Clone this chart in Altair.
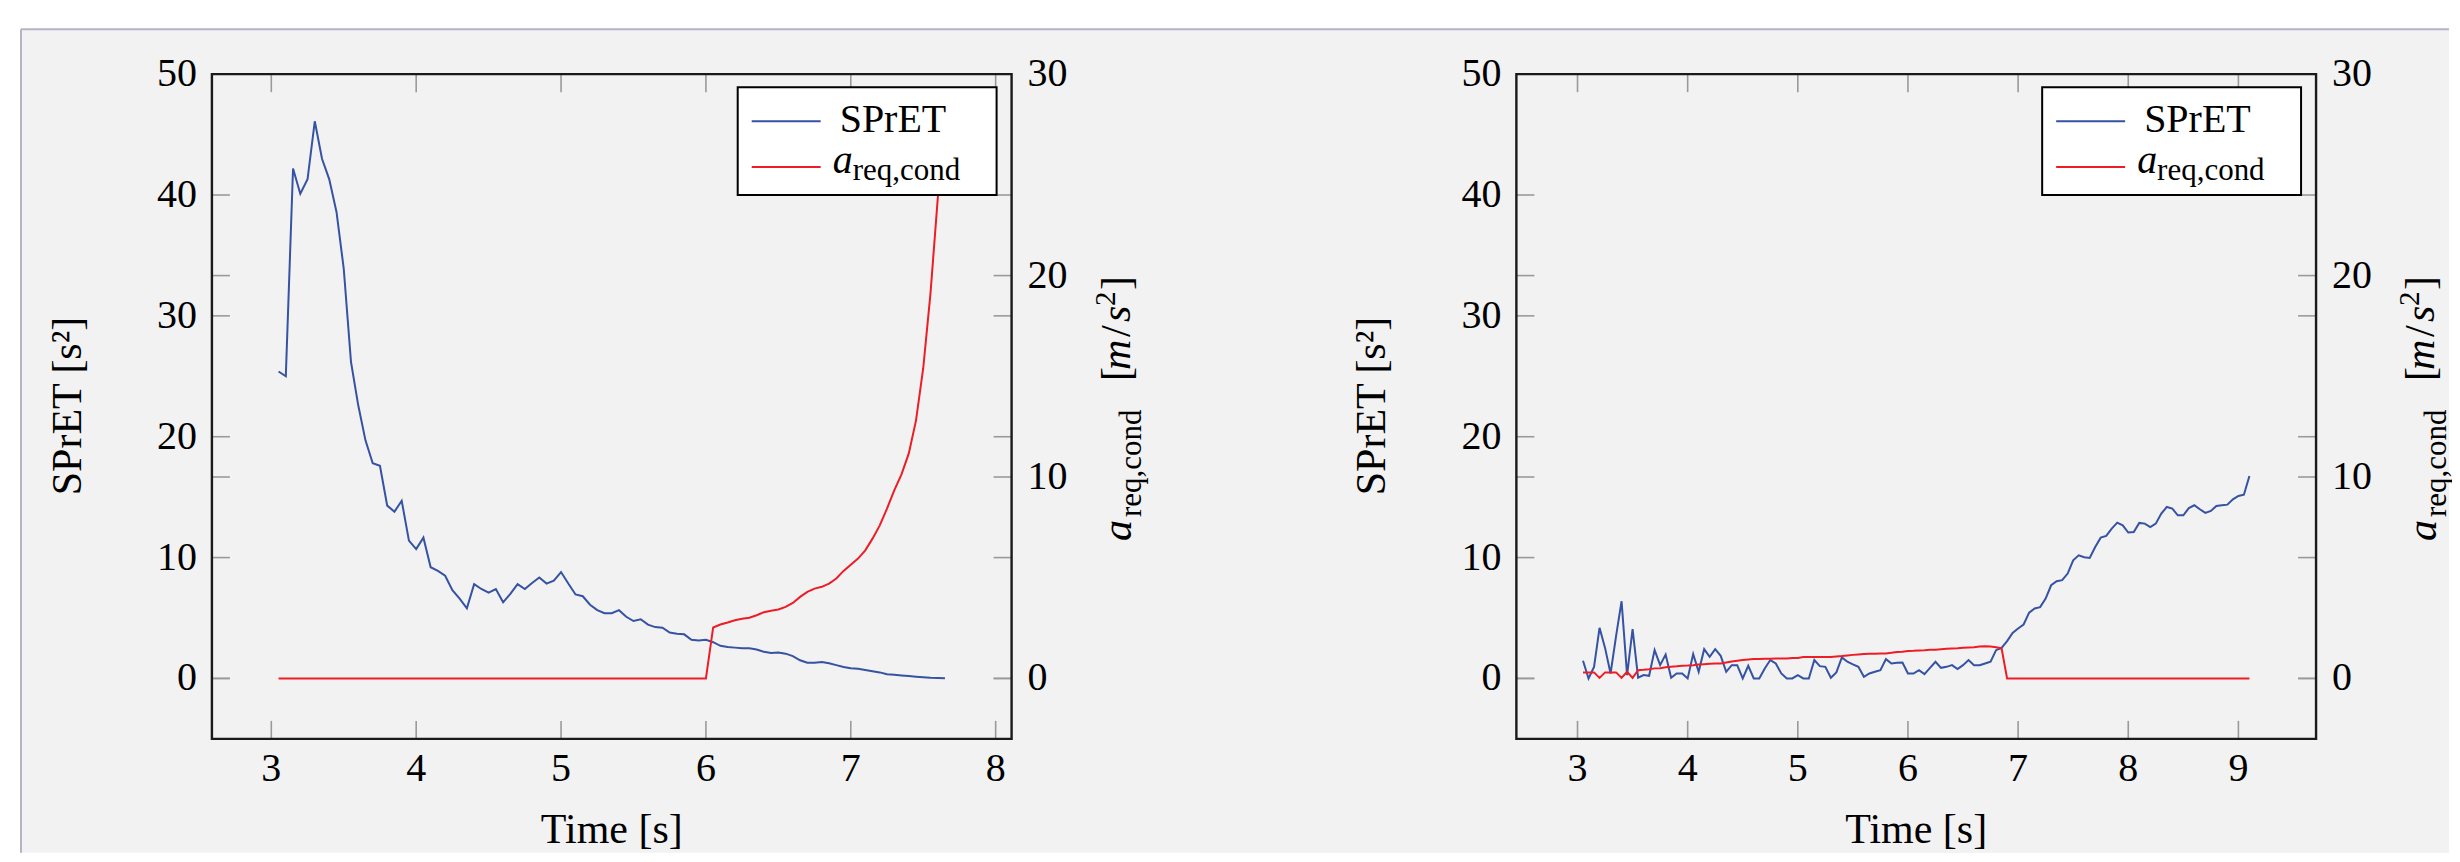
import altair as alt
import pandas as pd

FONT = "Liberation Serif"

# ---------------- data ----------------
T_START = 3.05
T_STEP = 0.05

SPRET_1 = [25.4, 25.0, 42.2, 40.1, 41.3, 46.1, 43.0, 41.3, 38.6, 33.9,
           26.2, 22.6, 19.7, 17.8, 17.6, 14.3, 13.8, 14.7, 11.4, 10.7,
           11.65, 9.2, 8.9, 8.5, 7.3, 6.6, 5.8, 7.8, 7.4, 7.1,
           7.4, 6.3, 7.0, 7.8, 7.4, 7.9, 8.35, 7.85, 8.1, 8.8,
           7.85, 6.95, 6.8, 6.1, 5.65, 5.4, 5.4, 5.65, 5.1, 4.75,
           4.9, 4.45, 4.25, 4.2, 3.8, 3.7, 3.65, 3.2, 3.15, 3.2,
           3.0, 2.7, 2.6, 2.55, 2.5, 2.5, 2.4, 2.2, 2.1, 2.15,
           2.05, 1.85, 1.5, 1.3, 1.3, 1.35, 1.25, 1.1, 0.95, 0.85,
           0.8, 0.7, 0.6, 0.5, 0.35, 0.3, 0.25, 0.2, 0.15, 0.1,
           0.05, 0.03, 0.02]

AREQ_1 = [0, 0, 0, 0, 0, 0, 0, 0, 0, 0,
          0, 0, 0, 0, 0, 0, 0, 0, 0, 0,
          0, 0, 0, 0, 0, 0, 0, 0, 0, 0,
          0, 0, 0, 0, 0, 0, 0, 0, 0, 0,
          0, 0, 0, 0, 0, 0, 0, 0, 0, 0,
          0, 0, 0, 0, 0, 0, 0, 0, 0, 0,
          2.53, 2.68, 2.78, 2.89, 2.96, 3.01, 3.14, 3.29, 3.36, 3.42,
          3.55, 3.75, 4.05, 4.30, 4.46, 4.55, 4.71, 4.96, 5.34, 5.65,
          5.95, 6.36, 6.94, 7.6, 8.43, 9.34, 10.13, 11.16, 12.8, 15.4,
          19.1, 23.8, 28.0]

SPRET_2 = [1.46, 0.0, 0.96, 4.19, 2.53, 0.41, 3.5, 6.39, 0.28, 4.08,
           0.06, 0.28, 0.22, 2.34, 1.1, 1.98, 0.06, 0.41, 0.41, 0.0,
           2.01, 0.55, 2.42, 1.79, 2.42, 1.87, 0.55, 1.1, 1.1, 0.0,
           1.05, 0.0, 0.0, 0.83, 1.52, 1.24, 0.41, 0.0, 0.0, 0.28,
           0.0, 0.0, 1.52, 1.02, 0.96, 0.06, 0.5, 1.74, 1.38, 1.16,
           0.96, 0.14, 0.41, 0.55, 0.69, 1.6, 1.24, 1.29, 1.32, 0.41,
           0.41, 0.69, 0.36, 0.88, 1.38, 0.88, 0.96, 1.1, 0.77, 1.1,
           1.52, 1.1, 1.1, 1.24, 1.38, 2.34, 2.53, 3.09, 3.77, 4.13,
           4.46, 5.45, 5.79, 5.9, 6.61, 7.71, 8.04, 8.13, 8.68, 9.78,
           10.19, 10.03, 9.97, 10.88, 11.65, 11.79, 12.4, 12.89, 12.67, 12.07,
           12.12, 12.87, 12.81, 12.53, 12.81, 13.64, 14.19, 14.05, 13.5, 13.5,
           14.1, 14.33, 14.0, 13.7, 13.86, 14.27, 14.33, 14.38, 14.82, 15.1,
           15.2, 16.75]

AREQ_2 = [0.3, 0.3, 0.3, 0.03, 0.3, 0.3, 0.3, 0.03, 0.33, 0.03, 0.41,
          0.43, 0.46, 0.50, 0.51, 0.55, 0.58, 0.60, 0.63, 0.64, 0.66,
          0.69, 0.71, 0.73, 0.74, 0.74, 0.79, 0.84, 0.88, 0.91, 0.94,
          0.96, 0.96, 0.98, 0.98, 0.99, 0.99, 0.99, 1.01, 1.02, 1.06,
          1.06, 1.06, 1.06, 1.07, 1.07, 1.09, 1.11, 1.14, 1.17, 1.19,
          1.21, 1.22, 1.22, 1.24, 1.24, 1.27, 1.31, 1.32, 1.36, 1.37,
          1.39, 1.40, 1.42, 1.42, 1.45, 1.47, 1.49, 1.50, 1.52, 1.54,
          1.55, 1.59, 1.60, 1.59, 1.55, 1.49,
          0, 0, 0, 0, 0, 0, 0, 0, 0, 0,
          0, 0, 0, 0, 0, 0, 0, 0, 0, 0,
          0, 0, 0, 0, 0, 0, 0, 0, 0, 0,
          0, 0, 0, 0, 0, 0, 0, 0, 0, 0,
          0, 0, 0, 0, 0]

X_TICKS_1 = [3, 4, 5, 6, 7, 8]
X_TICKS_2 = [3, 4, 5, 6, 7, 8, 9]
Y_LEFT_TICKS = [0, 10, 20, 30, 40, 50]
Y_RIGHT_TICKS = [0, 10, 20, 30]
X_DOMAIN_1 = [2.59, 8.11]
X_DOMAIN_2 = [2.445, 9.705]
Y_LEFT_DOMAIN = [-5, 50]
Y_RIGHT_DOMAIN = [-3, 30]

SERIES_NAMES = ["SPrET", "a", "req,cond"]
X_TITLE = "Time [s]"
Y_LEFT_TITLE = "SPrET [s\u00b2]"

# ---------------- style ----------------
W, H = 800, 665
BLUE = "#3552a3"
RED = "#ee1c25"
TICKC = "#9a9a9a"
PANEL = "#f2f2f2"
BORDER = "#b4b4c6"
BOTTOM = 779
LABEL_SIZE = 40

ONE = pd.DataFrame({"k": [0]})


def txt(s, x, y, size, italic=False, angle=0, align="left", baseline="alphabetic"):
    kw = dict(text=s, font=FONT, fontSize=size, color="black", align=align,
              baseline=baseline, clip=False)
    if italic:
        kw["fontStyle"] = "italic"
    if angle:
        kw["angle"] = angle
    return alt.Chart(ONE).mark_text(**kw).encode(x=alt.value(x), y=alt.value(y))


def prule(x, y, x2=None, y2=None, color="black", width=2.0):
    enc = dict(x=alt.value(x), y=alt.value(y))
    if x2 is not None:
        enc["x2"] = alt.value(x2)
    if y2 is not None:
        enc["y2"] = alt.value(y2)
    return alt.Chart(ONE).mark_rule(color=color, strokeWidth=width, clip=False).encode(**enc)


def panel(spret, areq, xdom, xticks, bg_x1, bg_x2, bg_y1, border):
    t = [round(T_START + T_STEP * i, 2) for i in range(len(spret))]
    df = pd.DataFrame({"t": t, "spret": spret, "areq": areq})
    xs = alt.Scale(domain=xdom, nice=False, zero=False)
    ysl = alt.Scale(domain=Y_LEFT_DOMAIN, nice=False, zero=False)
    ysr = alt.Scale(domain=Y_RIGHT_DOMAIN, nice=False, zero=False)

    bg = alt.Chart(ONE).mark_rect(fill=PANEL, strokeWidth=0, clip=False).encode(
        x=alt.value(bg_x1), x2=alt.value(bg_x2), y=alt.value(bg_y1), y2=alt.value(BOTTOM))
    bglayers = [bg]
    if border:
        bglayers.append(prule(bg_x1 + 1, bg_y1, x2=bg_x2, color=BORDER, width=2))
        bglayers.append(prule(bg_x1 + 1, bg_y1, y2=BOTTOM, color=BORDER, width=2))

    blue = alt.Chart(df).mark_line(color=BLUE, strokeWidth=2, clip=True).encode(
        x=alt.X("t:Q", scale=xs, axis=None),
        y=alt.Y("spret:Q", scale=ysl, axis=None))

    xt = pd.DataFrame({"v": xticks})
    ylt = pd.DataFrame({"v": Y_LEFT_TICKS})
    yrt = pd.DataFrame({"v": Y_RIGHT_TICKS})

    def xtick(y1, y2):
        return alt.Chart(xt).mark_rule(color=TICKC, strokeWidth=1.6).encode(
            x=alt.X("v:Q", scale=xs, axis=None), y=alt.value(y1), y2=alt.value(y2))

    def ytick(d, sc, x1, x2):
        return alt.Chart(d).mark_rule(color=TICKC, strokeWidth=1.6).encode(
            y=alt.Y("v:Q", scale=sc, axis=None), x=alt.value(x1), x2=alt.value(x2))

    xlabels = alt.Chart(xt).mark_text(font=FONT, fontSize=LABEL_SIZE, color="black",
                                      align="center", baseline="alphabetic").encode(
        x=alt.X("v:Q", scale=xs, axis=None), y=alt.value(707),
        text=alt.Text("v:Q", format="d"))
    ylabels = alt.Chart(ylt).mark_text(font=FONT, fontSize=LABEL_SIZE, color="black",
                                       align="right", baseline="middle").encode(
        y=alt.Y("v:Q", scale=ysl, axis=None), x=alt.value(-15),
        text=alt.Text("v:Q", format="d"))

    left_group = alt.layer(
        ytick(ylt, ysl, 0, 18), ytick(ylt, ysl, W - 18, W),
        xtick(H, H - 18), xtick(0, 18),
        blue, xlabels, ylabels,
    )

    red = alt.Chart(df).mark_line(color=RED, strokeWidth=2, clip=True).encode(
        x=alt.X("t:Q", scale=xs, axis=None),
        y=alt.Y("areq:Q", scale=ysr, axis=None))
    rlabels = alt.Chart(yrt).mark_text(font=FONT, fontSize=LABEL_SIZE, color="black",
                                       align="left", baseline="middle").encode(
        y=alt.Y("v:Q", scale=ysr, axis=None), x=alt.value(W + 16),
        text=alt.Text("v:Q", format="d"))

    right_group = alt.layer(
        ytick(yrt, ysr, 0, 18), ytick(yrt, ysr, W - 18, W),
        red, rlabels,
    )

    # legend
    box = alt.Chart(ONE).mark_rect(fill="white", stroke="black", strokeWidth=2, clip=False).encode(
        x=alt.value(526), x2=alt.value(785), y=alt.value(13), y2=alt.value(121))
    leg = [
        box,
        prule(540, 47, x2=609, color=BLUE, width=2),
        txt(SERIES_NAMES[0], 628, 58, 40),
        prule(540, 93, x2=609, color=RED, width=2),
        txt(SERIES_NAMES[1], 621, 99, 40, italic=True),
        txt(SERIES_NAMES[2], 641, 106, 31),
    ]

    titles = [
        txt(X_TITLE, W / 2, 769, 42, align="center"),
        txt(Y_LEFT_TITLE, -131, 332, 42, angle=270, align="center"),
        # right title a_{req,cond} [m/s^2]
        txt("a", 919.5, 467, 42, italic=True, angle=270),
        txt("req,cond", 929.5, 443, 31, angle=270),
        txt("[", 918, 307, 42, angle=270),
        txt("m", 918, 296, 42, italic=True, angle=270),
        txt("/", 918, 263, 42, angle=270),
        txt("s", 918, 248, 42, italic=True, angle=270),
        txt("2", 903, 232, 29, angle=270),
        txt("]", 918, 216, 42, angle=270),
    ]

    frame = alt.Chart(ONE).mark_rect(fill="white", fillOpacity=0, stroke="#1a1a1a",
                                     strokeWidth=2.4, clip=False).encode(
        x=alt.value(0), x2=alt.value(W), y=alt.value(0), y2=alt.value(H))

    return alt.layer(*bglayers, left_group, right_group, *leg, *titles, frame).resolve_scale(
        y="independent").properties(width=W, height=H)


p1 = panel(SPRET_1, AREQ_1, X_DOMAIN_1, X_TICKS_1, -192, 2238, -45, True)
p2 = panel(SPRET_2, AREQ_2, X_DOMAIN_2, X_TICKS_2, -317, 933, -43, False)

chart = alt.hconcat(p1, p2, spacing=505, bounds="flush").properties(
    padding={"left": 12, "top": 20, "right": 0, "bottom": 0},
    background="white",
).configure_view(strokeWidth=0)

chart.save("out.html", embed_options={"renderer": "svg", "actions": False})
